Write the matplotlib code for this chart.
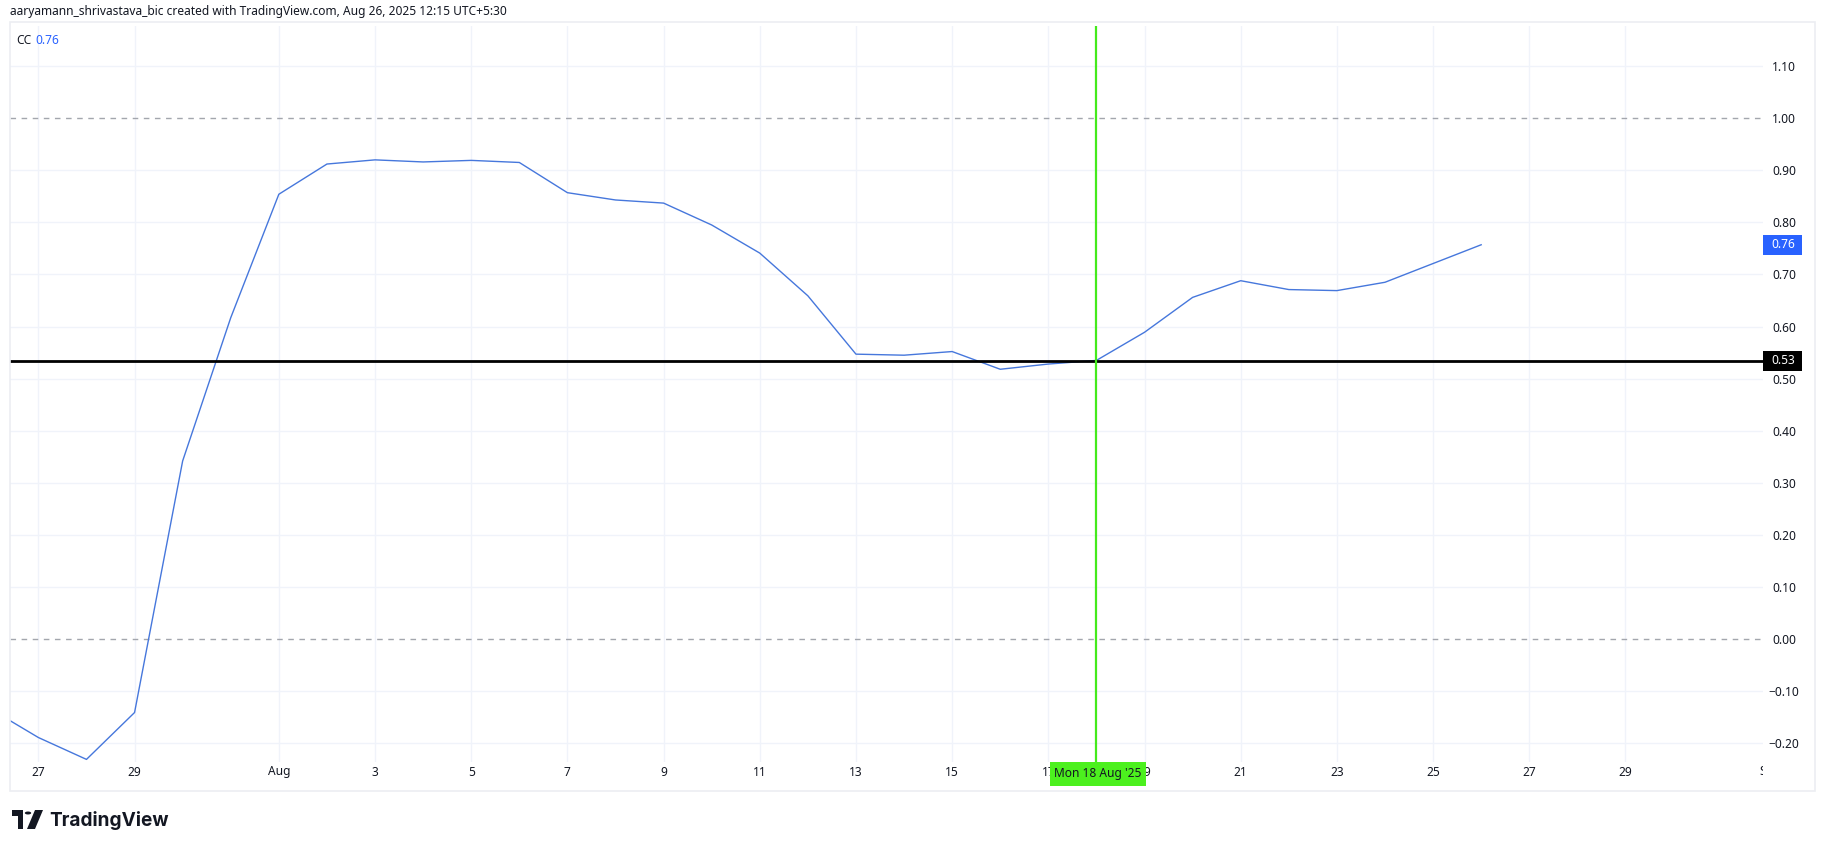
import matplotlib
matplotlib.use("Agg")
import matplotlib.pyplot as plt
import matplotlib.dates as mdates
from matplotlib.patches import Rectangle, Polygon, Circle
from matplotlib.transforms import Bbox, blended_transform_factory
import pandas as pd

# ---------------- data ----------------
start_date = "2025-07-26"
cc_values = [-0.134, -0.189, -0.231, -0.141, 0.342, 0.617, 0.854, 0.912, 0.920,
             0.916, 0.919, 0.915, 0.857, 0.843, 0.837, 0.795, 0.741, 0.659,
             0.547, 0.545, 0.552, 0.518, 0.528, 0.535, 0.589, 0.656, 0.688,
             0.671, 0.669, 0.685, 0.721, 0.757]
y_ticks = [1.10, 1.00, 0.90, 0.80, 0.70, 0.60, 0.50, 0.40, 0.30, 0.20, 0.10,
           0.00, -0.10, -0.20]
x_tick_dates = ["2025-07-27", "2025-07-29", "2025-08-01", "2025-08-03", "2025-08-05",
                "2025-08-07", "2025-08-09", "2025-08-11", "2025-08-13", "2025-08-15",
                "2025-08-17", "2025-08-19", "2025-08-21", "2025-08-23", "2025-08-25",
                "2025-08-27", "2025-08-29", "2025-09-01"]
x_tick_labels = ["27", "29", "Aug", "3", "5", "7", "9", "11", "13", "15", "17", "19",
                 "21", "23", "25", "27", "29", "Sep"]
ref_levels = [1.00, 0.00]
hline_value = 0.534
last_value = 0.757
cursor_date = "2025-08-18"
cursor_label = "Mon 18 Aug '25"
header = "aaryamann_shrivastava_bic created with TradingView.com, Aug 26, 2025 12:15 UTC+5:30"
series_name = "CC"

dates = pd.date_range(start_date, periods=len(cc_values), freq="D")

# ---------------- figure ----------------
W, H = 1825, 849
plt.rcParams['font.family'] = ['Noto Sans', 'DejaVu Sans']
fig = plt.figure(figsize=(W / 100, H / 100), dpi=100)
fig.patch.set_facecolor("white")

def fx(x):
    return x / W

def fy(y):
    return 1 - y / H

L, R, T, B = 10, 1763, 26, 762
ax = fig.add_axes([fx(L), fy(B), fx(R) - fx(L), fy(T) - fy(B)])
ax.set_facecolor("white")
for s in ax.spines.values():
    s.set_visible(False)

x0 = mdates.date2num(pd.Timestamp("2025-07-27")) - 0.59
x1 = mdates.date2num(pd.Timestamp("2025-07-27")) + 35.86
ax.set_xlim(x0, x1)
ax.set_ylim(-0.236, 1.177)

grid_c = "#f0f3fa"
tick_nums = [mdates.date2num(pd.Timestamp(d)) for d in x_tick_dates]
for t in tick_nums:
    ax.axvline(t, color=grid_c, lw=1, zorder=0)
for v in y_ticks:
    if v not in ref_levels:
        ax.axhline(v, color=grid_c, lw=1, zorder=0)

for v in ref_levels:
    ax.axhline(v, color="#a3a6ad", lw=1, ls=(0, (4, 4)), zorder=1)

ax.plot(dates, cc_values, color="#4677dc", lw=1.0, zorder=3)

ax.axhline(hline_value, color="black", lw=2, zorder=4)
ax.axvline(mdates.date2num(pd.Timestamp(cursor_date)), color="#44ea1c", lw=1.6, zorder=5)

# y axis on right
ax.yaxis.tick_right()
ax.set_yticks(y_ticks)
ax.set_yticklabels([f"{v:.2f}".replace("-", "\u2212") for v in y_ticks])
ax.tick_params(axis="y", length=0, pad=15, labelsize=8.6, labelcolor="#131722")
for lab in ax.get_yticklabels():
    lab.set_horizontalalignment("center")

# x labels (manually, so the last one can be clipped)
ax.set_xticks([])
trans_x = blended_transform_factory(ax.transData, fig.transFigure)
clip = Bbox.from_extents(0, 0, R, H)
for t, lab in zip(tick_nums, x_tick_labels):
    weight = "bold" if lab in ("Aug", "Sep") else "normal"
    txt = fig.text(t, fy(772), lab, transform=trans_x, ha="center", va="center",
                   fontsize=8.6, color="#131722", fontweight=weight)
    txt.set_clip_box(clip)
    txt.set_clip_on(True)

# price labels on axis
trans_y = blended_transform_factory(fig.transFigure, ax.transData)
for val, fc in [(last_value, "#2962ff"), (hline_value, "#000000")]:
    ax.add_patch(Rectangle((fx(1763), val - 0.0195), fx(1802) - fx(1763), 0.039,
                           transform=trans_y, facecolor=fc, edgecolor="none",
                           clip_on=False, zorder=10))
    fig.text(fx(1783), val, f"{val:.2f}", transform=trans_y, ha="center", va="center",
             fontsize=8.6, color="white", fontweight="bold", zorder=11)

# cursor date label
fig.patches.append(Rectangle((fx(1050), fy(786)), fx(1146) - fx(1050), fy(762) - fy(786),
                             transform=fig.transFigure, facecolor="#4cf01e",
                             edgecolor="none", zorder=10))
fig.text(fx(1098), fy(774), cursor_label, ha="center", va="center", fontsize=8.6,
         color="#131722", zorder=11)

# panel border
fig.patches.append(Rectangle((fx(10), fy(791)), fx(1815) - fx(10), fy(22) - fy(791),
                             transform=fig.transFigure, facecolor="none",
                             edgecolor="#eceef2", lw=1.2, zorder=0))

# header & legend
fig.text(fx(10), fy(11), header, ha="left", va="center", fontsize=8.6, color="#131722")
fig.text(fx(16), fy(41), series_name, ha="left", va="center", fontsize=8.6, color="#131722")
fig.text(fx(35), fy(41), f"{last_value:.2f}", ha="left", va="center", fontsize=8.6,
         color="#2962ff")

# TradingView logo
lc = "#131722"
fig.patches.append(Rectangle((fx(12), fy(816)), fx(23) - fx(12), fy(810) - fy(816),
                             transform=fig.transFigure, facecolor=lc, edgecolor="none"))
fig.patches.append(Rectangle((fx(18), fy(829)), fx(23) - fx(18), fy(816) - fy(829),
                             transform=fig.transFigure, facecolor=lc, edgecolor="none"))
fig.patches.append(Circle((fx(28), fy(813)), 3.2 / W, transform=fig.transFigure,
                          facecolor=lc, edgecolor="none"))
fig.patches.append(Polygon([(fx(35), fy(810)), (fx(43), fy(810)), (fx(35), fy(829)),
                            (fx(27), fy(829))], closed=True, transform=fig.transFigure,
                           facecolor=lc, edgecolor="none"))
fig.text(fx(49), fy(820), "TradingView", ha="left", va="center", fontsize=13.7,
         color=lc, fontweight="bold", family=["Inter", "DejaVu Sans"])

fig.savefig("out.png", dpi=100, facecolor="white")
